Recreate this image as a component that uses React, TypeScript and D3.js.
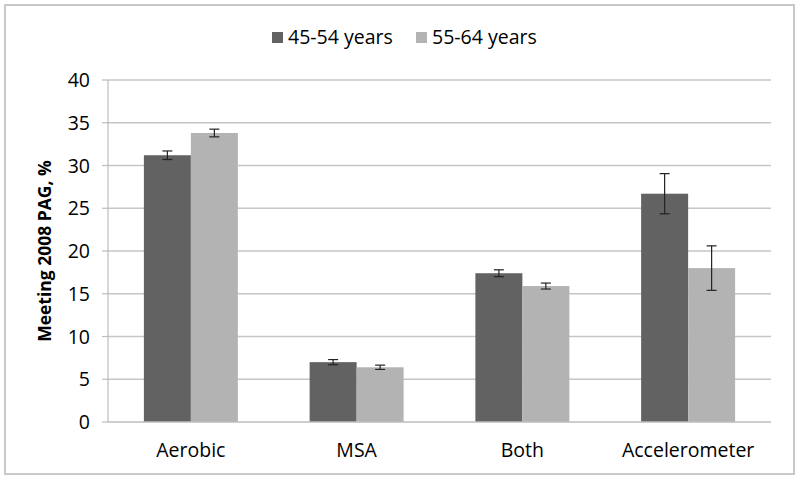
import React from "react";
import * as d3 from "d3";

const categories = ["Aerobic", "MSA", "Both", "Accelerometer"];
const seriesNames = ["45-54 years", "55-64 years"];
const values4554 = [31.2, 7.0, 17.4, 26.7];
const values5564 = [33.8, 6.4, 15.9, 18.0];
const err4554 = [0.5, 0.3, 0.4, 2.35];
const err5564 = [0.45, 0.25, 0.35, 2.6];
const yTicks = [0, 5, 10, 15, 20, 25, 30, 35, 40];
const colors = ["#626262", "#b3b3b3"];

const FONT = "'Open Sans', 'Liberation Sans', sans-serif";

export default function App() {
  const W = 800, H = 483;
  const left = 108, right = 771, top = 80, bottom = 422;
  const x = d3.scaleBand<string>().domain(categories).range([left, right]).padding(0);
  const y = d3.scaleLinear().domain([0, 40]).range([bottom, top]);
  const groupFrac = 0.567;
  const bw = (x.bandwidth() * groupFrac) / 2;
  const series = [
    { name: seriesNames[0], vals: values4554, errs: err4554, color: colors[0] },
    { name: seriesNames[1], vals: values5564, errs: err5564, color: colors[1] },
  ];
  return (
    <svg width={W} height={H} style={{ position: "absolute", left: 0, top: 0, background: "#fff" }}>
      <rect x={5} y={5} width={789} height={469} fill="#fff" stroke="#c8c8c8" strokeWidth={2} />
      {yTicks.map((t) => (
        <g key={t}>
          {t > 0 && <line x1={left} x2={right} y1={y(t)} y2={y(t)} stroke="#c6c6c6" strokeWidth={1.5} />}
          <line x1={left - 6} x2={left} y1={y(t)} y2={y(t)} stroke="#bdbdbd" strokeWidth={1.2} />
          <text x={90} y={y(t) + 7} textAnchor="end" fontFamily={FONT} fontSize={19.5} fill="#000">
            {t}
          </text>
        </g>
      ))}
      <line x1={left} x2={left} y1={top} y2={bottom} stroke="#bdbdbd" strokeWidth={1.2} />
      {categories.map((c, i) => {
        const cx = (x(c) as number) + x.bandwidth() / 2;
        return (
          <g key={c}>
            {series.map((s, j) => {
              const bx = cx - bw + j * bw;
              const v = s.vals[i];
              const e = s.errs[i];
              const mx = bx + bw / 2;
              return (
                <g key={s.name}>
                  <rect x={bx} y={y(v)} width={bw} height={y(0) - y(v)} fill={s.color} />
                  <line x1={mx} x2={mx} y1={y(v + e)} y2={y(v - e)} stroke="#222" strokeWidth={1.2} />
                  <line x1={mx - 5} x2={mx + 5} y1={y(v + e)} y2={y(v + e)} stroke="#222" strokeWidth={1.2} />
                  <line x1={mx - 5} x2={mx + 5} y1={y(v - e)} y2={y(v - e)} stroke="#222" strokeWidth={1.2} />
                </g>
              );
            })}
            <text x={cx} y={457} textAnchor="middle" fontFamily={FONT} fontSize={19.5} fill="#000">
              {c}
            </text>
          </g>
        );
      })}
      <line x1={left} x2={right} y1={bottom} y2={bottom} stroke="#bdbdbd" strokeWidth={1.5} />
      <text
        transform={`translate(51, ${(top + bottom) / 2}) rotate(-90)`}
        textAnchor="middle"
        fontFamily={FONT}
        fontWeight="bold"
        fontSize={17.5}
        fill="#000"
      >
        Meeting 2008 PAG, %
      </text>
      {series.map((s, j) => {
        const lx = [272, 416][j];
        return (
          <g key={s.name}>
            <rect x={lx} y={32} width={11} height={11} fill={s.color} />
            <text x={lx + 16} y={44} fontFamily={FONT} fontSize={19.5} fill="#000">
              {s.name}
            </text>
          </g>
        );
      })}
    </svg>
  );
}
